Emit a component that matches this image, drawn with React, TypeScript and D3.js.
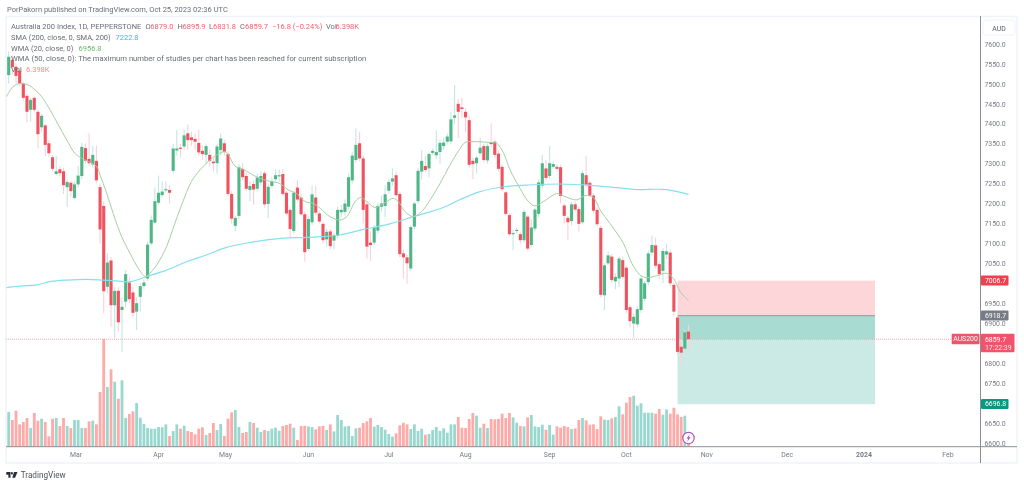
import { useEffect, useRef } from 'react'
import * as d3 from 'd3'

const opens = [
  7522, 7560, 7543, 7533, 7501, 7470, 7435, 7465, 7430, 7391,
  7396, 7351, 7316, 7274, 7286, 7281, 7241, 7252, 7214, 7248,
  7269, 7339, 7312, 7298, 7307, 7241, 7194, 6991, 7057, 6945,
  6981, 6933, 6954, 7002, 6977, 6929, 6966, 6993, 7012, 7100,
  7152, 7202, 7221, 7234, 7234, 7282, 7333, 7340, 7343, 7376,
  7366, 7362, 7352, 7332, 7322, 7322, 7305, 7301, 7334, 7351,
  7324, 7224, 7144, 7169, 7286, 7269, 7234, 7249, 7237, 7253,
  7276, 7199, 7244, 7261, 7269, 7274, 7227, 7184, 7131, 7240,
  7215, 7173, 7086, 7153, 7215, 7175, 7149, 7110, 7130, 7107,
  7120, 7178, 7179, 7192, 7258, 7309, 7351, 7313, 7198, 7102,
  7102, 7132, 7192, 7194, 7232, 7255, 7271, 7224, 7075, 7065,
  7037, 7142, 7206, 7280, 7294, 7288, 7327, 7321, 7329, 7344,
  7355, 7356, 7415, 7450, 7441, 7430, 7409, 7307, 7301, 7326,
  7344, 7308, 7354, 7355, 7325, 7292, 7228, 7171, 7124, 7132,
  7123, 7108, 7167, 7096, 7137, 7174, 7245, 7288, 7269, 7292,
  7292, 7291, 7195, 7164, 7156, 7198, 7186, 7153, 7271, 7252,
  7220, 7184, 7139, 6970, 7050, 7067, 7005, 7012, 7058, 7039,
  6940, 6899, 6897, 6933, 6961, 7003, 7077, 7095, 7048, 7031,
  7072, 7077, 6996, 6914, 6841, 6836, 6879,
]

const closes = [
  7568, 7542, 7520, 7501, 7465, 7430, 7460, 7435, 7374, 7420,
  7347, 7326, 7287, 7281, 7276, 7246, 7254, 7231, 7248, 7270,
  7342, 7307, 7301, 7322, 7258, 7135, 6980, 7052, 6945, 6981,
  6902, 6941, 7023, 6960, 6926, 6950, 6993, 7002, 7097, 7159,
  7206, 7227, 7230, 7236, 7227, 7338, 7338, 7338, 7371, 7359,
  7359, 7355, 7328, 7324, 7344, 7307, 7301, 7343, 7363, 7329,
  7224, 7162, 7164, 7291, 7266, 7237, 7244, 7235, 7265, 7269,
  7198, 7242, 7256, 7271, 7271, 7224, 7175, 7136, 7227, 7210,
  7173, 7078, 7161, 7223, 7177, 7155, 7108, 7129, 7093, 7120,
  7184, 7184, 7200, 7266, 7320, 7347, 7313, 7184, 7092, 7096,
  7140, 7194, 7200, 7223, 7254, 7263, 7221, 7073, 7065, 7050,
  7141, 7200, 7282, 7307, 7284, 7324, 7332, 7329, 7352, 7353,
  7368, 7411, 7421, 7430, 7437, 7416, 7297, 7299, 7315, 7340,
  7309, 7344, 7349, 7322, 7287, 7236, 7174, 7123, 7126, 7134,
  7108, 7179, 7087, 7140, 7185, 7253, 7301, 7264, 7301, 7299,
  7287, 7219, 7169, 7153, 7198, 7185, 7149, 7276, 7247, 7220,
  7182, 7148, 6971, 7045, 7070, 7008, 7016, 7062, 7016, 6933,
  6905, 6916, 6935, 7012, 7000, 7075, 7096, 7044, 7023, 7081,
  7080, 7000, 6929, 6828, 6826, 6877, 6859.7,
]

const highs = [
  7581, 7572, 7552, 7540, 7505, 7475, 7465, 7470, 7435, 7425,
  7400, 7358, 7322, 7319, 7295, 7290, 7260, 7258, 7255, 7295,
  7352, 7350, 7376, 7345, 7345, 7250, 7205, 7075, 7065, 6990,
  6990, 6965, 7033, 7015, 6990, 6965, 7000, 7010, 7105, 7170,
  7240, 7270, 7255, 7255, 7246, 7350, 7385, 7350, 7385, 7398,
  7380, 7375, 7385, 7345, 7350, 7335, 7315, 7350, 7375, 7360,
  7332, 7232, 7170, 7300, 7301, 7278, 7255, 7258, 7275, 7280,
  7282, 7250, 7265, 7285, 7285, 7285, 7232, 7190, 7232, 7259,
  7225, 7180, 7168, 7245, 7245, 7182, 7155, 7137, 7136, 7127,
  7192, 7196, 7210, 7275, 7330, 7388, 7380, 7320, 7205, 7130,
  7146, 7200, 7220, 7245, 7262, 7288, 7280, 7230, 7085, 7072,
  7145, 7205, 7290, 7335, 7320, 7330, 7338, 7384, 7360, 7365,
  7375, 7430, 7497, 7462, 7465, 7438, 7420, 7315, 7320, 7365,
  7350, 7350, 7401, 7360, 7332, 7298, 7232, 7176, 7135, 7140,
  7130, 7185, 7172, 7160, 7190, 7260, 7322, 7310, 7344, 7305,
  7298, 7297, 7200, 7170, 7205, 7205, 7192, 7283, 7320, 7258,
  7226, 7190, 7145, 7050, 7080, 7074, 7025, 7068, 7065, 7045,
  6946, 6925, 6942, 7018, 7006, 7082, 7120, 7115, 7054, 7088,
  7100, 7085, 7002, 6920, 6860, 6885, 6895.9,
]

const lows = [
  7501, 7522, 7501, 7495, 7458, 7403, 7405, 7428, 7338, 7380,
  7319, 7318, 7280, 7270, 7268, 7224, 7192, 7217, 7210, 7240,
  7262, 7300, 7295, 7290, 7250, 7100, 6925, 6975, 6891, 6862,
  6880, 6827, 6940, 6950, 6915, 6883, 6930, 6985, 7005, 7095,
  7148, 7196, 7215, 7228, 7200, 7275, 7320, 7315, 7335, 7335,
  7345, 7335, 7320, 7310, 7300, 7295, 7280, 7275, 7320, 7320,
  7218, 7150, 7130, 7160, 7258, 7230, 7205, 7196, 7230, 7245,
  7190, 7163, 7238, 7255, 7255, 7218, 7170, 7113, 7125, 7205,
  7168, 7054, 7080, 7146, 7170, 7150, 7100, 7092, 7085, 7085,
  7112, 7165, 7170, 7185, 7250, 7302, 7306, 7150, 7062, 7055,
  7095, 7125, 7180, 7165, 7225, 7245, 7215, 7065, 7012, 6999,
  7030, 7135, 7200, 7260, 7278, 7265, 7322, 7312, 7300, 7335,
  7348, 7350, 7400, 7364, 7415, 7380, 7290, 7261, 7275, 7320,
  7303, 7300, 7340, 7315, 7280, 7230, 7168, 7118, 7083, 7125,
  7100, 7102, 7082, 7090, 7130, 7165, 7238, 7258, 7262, 7288,
  7282, 7200, 7150, 7108, 7145, 7180, 7130, 7148, 7240, 7215,
  7176, 7143, 6965, 6933, 7045, 7000, 6985, 6990, 7010, 6925,
  6890, 6862, 6890, 6926, 6955, 6996, 7070, 7038, 7010, 7000,
  7060, 6992, 6920, 6820, 6795, 6830, 6831.8,
]

// volume, relative bar heights (no volume axis in the picture), last bar sits behind the icon
const volumes = [
  10.4, 8.0, 10.8, 6.7, 7.4, 8.6, 5.6, 10.1, 7.8, 8.4,
  7.4, 3.1, 8.4, 8.6, 6.2, 8.6, 6.2, 5.6, 8.0, 8.0,
  5.6, 5.6, 7.6, 7.8, 6.7, 16.4, 32.3, 17.9, 23.2, 19.5,
  14.4, 19.9, 8.6, 9.8, 10.6, 13.1, 8.7, 6.8, 5.6, 5.4,
  5.4, 5.9, 5.8, 6.7, 3.2, 4.7, 6.7, 5.4, 6.3, 4.7,
  4.4, 3.7, 5.4, 5.8, 3.5, 4.1, 7.1, 5.0, 6.8, 3.2,
  8.4, 10.3, 11.0, 5.9, 4.1, 4.4, 7.4, 7.1, 5.7, 4.4,
  5.0, 4.7, 5.4, 5.7, 4.8, 6.2, 6.5, 6.9, 5.7, 2.0,
  6.2, 6.3, 6.1, 5.9, 5.2, 6.1, 6.2, 5.0, 6.7, 4.6,
  9.5, 8.0, 6.1, 6.2, 3.2, 5.5, 5.7, 7.1, 7.6, 8.6,
  6.0, 6.5, 5.9, 5.1, 3.8, 3.0, 4.0, 6.4, 7.2, 6.7,
  5.3, 6.7, 4.7, 5.4, 3.6, 3.8, 5.0, 5.9, 4.7, 5.5,
  4.2, 6.7, 6.7, 8.9, 5.7, 5.6, 8.3, 10.1, 9.3, 5.7,
  6.9, 5.6, 8.3, 8.2, 8.3, 9.9, 8.6, 10.1, 8.8, 7.2,
  6.2, 6.1, 8.8, 9.5, 6.1, 5.9, 6.6, 5.1, 6.5, 3.6,
  6.1, 5.7, 6.2, 5.9, 5.3, 5.5, 8.0, 8.6, 7.9, 6.6,
  6.7, 5.3, 9.1, 8.1, 8.0, 8.5, 8.9, 12.1, 9.7, 13.2,
  14.9, 15.3, 12.3, 13.0, 10.2, 10.2, 10.2, 9.9, 11.3, 9.6,
  11.2, 9.9, 11.7, 9.7, 8.9, 9.3, 3.5,
]

const wmaBars = [
  -0.6, 0.8, 2.2, 3.5, 5.4, 7.2, 9, 11.3, 13.6, 15.9, 18.1, 19.5, 24.1, 25, 26.8, 28.6, 30.9, 33.2, 35.5, 37.3, 38.2,
  40.5, 43.2, 45, 47.3, 50, 52.3, 54.6, 56.9, 59.2, 60.5, 61.9, 64.2, 66.9, 69.7, 72, 74.2, 76.5, 78.8, 81.1, 83.4,
  85.2, 87.9, 90.6, 92.5, 94.8, 96.3, 98, 100.2, 103, 105.2, 106.6, 108.4, 110.7, 113, 115.3, 118, 120.7, 123.5,
  124.9, 128, 131.7, 133.5, 135.4, 137.2, 139.9, 142.2, 144, 146.3, 150, 151.8, 155.4, 157.7, 160, 161.8, 164.5,
  168.2, 170.5, 172.7, 174.6, 177.3, 180, 181.9, 183.7, 186,
]
const wmaValues = [
  7468, 7489, 7499, 7501, 7497, 7485, 7468, 7435, 7397, 7359, 7326, 7316, 7292, 7271, 7226, 7175, 7117, 7075, 7037, 7017, 7021,
  7046, 7092, 7138, 7196, 7255, 7284, 7305, 7322, 7330, 7316, 7294, 7286, 7271, 7260, 7255, 7250, 7234, 7225, 7205, 7200,
  7188, 7167, 7159, 7167, 7205, 7215, 7205, 7190, 7202, 7213, 7205, 7180, 7167, 7180, 7209, 7250, 7296, 7338,
  7353, 7355, 7353, 7351, 7326, 7284, 7238, 7205, 7194, 7205, 7225, 7219, 7209, 7220, 7215, 7184, 7150,
  7100, 7050, 7021, 7014, 7019, 7025, 7012, 6979, 6956.8,
]

const smaBars = [
  -0.6, 3.1, 7.7, 11.3, 15.9, 21.3, 25.9, 29.5, 33.2, 37.8, 43.2, 48.7, 54.1, 59.6, 66, 75.1, 81.5, 90.6, 97, 104.3,
  110.7, 118.9, 123.5, 129, 135.4, 141.7, 150.9, 160, 166.4, 171.8, 180, 186,
]
const smaValues = [
  6989, 6993, 6996, 7004, 7008, 7010, 7008, 7006, 7004, 7017, 7033, 7054, 7071, 7090, 7102, 7113, 7115, 7121, 7135, 7149,
  7167, 7190, 7210, 7230, 7242, 7246, 7249, 7245, 7240, 7235, 7235, 7222.8,
]

// 7000, 6850 and 6700 are covered by the price tags in the picture
const priceTicks = [
  7600, 7550, 7500, 7450, 7400, 7350, 7300, 7250, 7200, 7150, 7100, 7050,
  6950, 6900, 6800, 6750, 6650, 6600,
]
const monthLabels = ['Mar', 'Apr', 'May', 'Jun', 'Jul', 'Aug', 'Sep', 'Oct', 'Nov', 'Dec', '2024', 'Feb']
const monthBars = [18.4, 41, 59.3, 82, 104, 125, 148, 169, 191, 213, 234, 257]

const entryPrice = 6918.7
const stopPrice = 7006.7
const targetPrice = 6696.8
const lastPrice = 6859.7

const FONT = 'Roboto, sans-serif'
const UP = '#4fb786'
const DOWN = '#f0525f'
const AXIS_SIZE = '6.9px'

export default function App() {
  const svgRef = useRef<SVGSVGElement>(null)

  useEffect(() => {
    if (!svgRef.current) return
    const svg = d3.select(svgRef.current)
    svg.selectAll('*').remove()

    const x = d3.scaleLinear().domain([0, 186]).range([8.7, 688.5])
    const y = d3.scaleLinear().domain([6600, 7600]).range([442.8, 44])
    const v = d3.scaleLinear().domain([0, 32.3]).range([446.7, 339])
    const bars = d3.range(opens.length)
    const isUp = (i: number) => closes[i] >= opens[i]

    // frame
    svg.append('rect').attr('x', 6).attr('y', 16.5).attr('width', 1011).attr('height', 446.5)
      .attr('fill', '#fff').attr('stroke', '#f0f3fa').attr('stroke-width', 1.5)

    const plot = svg.append('g')

    // position tool
    const boxLeft = x(183)
    const boxWidth = 875 - boxLeft
    plot.append('rect').attr('x', boxLeft).attr('y', y(stopPrice)).attr('width', boxWidth)
      .attr('height', y(entryPrice) - y(stopPrice)).attr('fill', '#fdd6da')
    plot.append('rect').attr('x', boxLeft).attr('y', y(entryPrice)).attr('width', boxWidth)
      .attr('height', y(targetPrice) - y(entryPrice)).attr('fill', '#cbeae5')
    plot.append('rect').attr('x', boxLeft).attr('y', y(entryPrice)).attr('width', boxWidth)
      .attr('height', y(lastPrice) - y(entryPrice)).attr('fill', '#a8dbd2')
    plot.append('line').attr('x1', boxLeft).attr('x2', 875).attr('y1', y(entryPrice)).attr('y2', y(entryPrice))
      .attr('stroke', '#8f9a9c').attr('stroke-width', 1)

    // volume
    plot.selectAll('.vol').data(bars).enter().append('rect')
      .attr('x', (i) => x(i) - 1.4)
      .attr('y', (i) => v(volumes[i]))
      .attr('width', 2.8)
      .attr('height', (i) => v(0) - v(volumes[i]))
      .attr('fill', (i) => (isUp(i) ? '#99d8ce' : '#fdaaa8'))

    // last price line
    plot.append('line').attr('x1', 6).attr('x2', 951).attr('y1', y(lastPrice)).attr('y2', y(lastPrice))
      .attr('stroke', '#f6a6b0').attr('stroke-width', 1).attr('stroke-dasharray', '1,1')

    // wicks and bodies
    plot.selectAll('.wick').data(bars).enter().append('line')
      .attr('x1', (i) => x(i)).attr('x2', (i) => x(i))
      .attr('y1', (i) => y(highs[i])).attr('y2', (i) => y(lows[i]))
      .attr('stroke', (i) => (isUp(i) ? '#c6e4e4' : '#fcd0d6'))
      .attr('stroke-width', 1.1)

    plot.selectAll('.body').data(bars).enter().append('rect')
      .attr('x', (i) => x(i) - 1.55)
      .attr('y', (i) => y(Math.max(opens[i], closes[i])))
      .attr('width', 3.1)
      .attr('height', (i) => Math.max(1.2, Math.abs(y(opens[i]) - y(closes[i]))))
      .attr('fill', (i) => (isUp(i) ? UP : DOWN))

    // moving averages
    const drawLine = (xs: number[], ys: number[], stroke: string, width: number) => {
      const line = d3.line<number>()
        .x((i) => x(xs[i]))
        .y((i) => y(ys[i]))
        .curve(d3.curveCatmullRom)
      plot.append('path').attr('d', line(d3.range(xs.length)))
        .attr('fill', 'none').attr('stroke', stroke).attr('stroke-width', width)
    }
    drawLine(smaBars, smaValues, '#86e0ee', 1.2)
    drawLine(wmaBars, wmaValues, '#a5d0a3', 1)

    // panes
    svg.append('line').attr('x1', 980.5).attr('x2', 980.5).attr('y1', 16).attr('y2', 463)
      .attr('stroke', '#8b8e96').attr('stroke-width', 1)
    svg.append('line').attr('x1', 6).attr('x2', 1017).attr('y1', 446.7).attr('y2', 446.7)
      .attr('stroke', '#8b8e96').attr('stroke-width', 1)

    // price axis
    const priceAxis = svg.append('g').attr('transform', 'translate(980.5,0)')
      .call(d3.axisRight(y).tickValues(priceTicks).tickSize(0).tickPadding(4).tickFormat((d) => d3.format('.1f')(d as number)))
    priceAxis.select('.domain').remove()
    priceAxis.selectAll('text').attr('fill', '#787b86').attr('font-size', AXIS_SIZE).attr('font-family', FONT)

    // time axis
    svg.selectAll('.month').data(monthLabels).enter().append('text')
      .attr('x', (_, i) => x(monthBars[i]))
      .attr('y', 457)
      .attr('text-anchor', 'middle')
      .attr('fill', '#787b86')
      .attr('font-family', FONT)
      .attr('font-size', AXIS_SIZE)
      .attr('font-weight', (d) => (d === '2024' ? 700 : 400))
      .text((d) => d)

    // AUD box
    svg.append('rect').attr('x', 983).attr('y', 20).attr('width', 32).attr('height', 15).attr('rx', 3)
      .attr('fill', '#fff').attr('stroke', '#f0f3fa')
    svg.append('text').attr('x', 999).attr('y', 30.5).attr('text-anchor', 'middle')
      .attr('font-family', FONT).attr('font-size', AXIS_SIZE).attr('fill', '#5d606b').text('AUD')

    // price tags
    const tag = (price: number, fill: string) => {
      const cy = y(price)
      svg.append('rect').attr('x', 981).attr('y', cy - 5.2).attr('width', 27.5).attr('height', 10).attr('rx', 1).attr('fill', fill)
      svg.append('text').attr('x', 985).attr('y', cy + 2.2).attr('font-family', FONT).attr('font-size', AXIS_SIZE)
        .attr('fill', '#fff').text(price.toFixed(1))
    }
    tag(stopPrice, '#f23f50')
    tag(entryPrice, '#787b86')
    tag(targetPrice, '#089981')

    const ly = y(lastPrice)
    svg.append('rect').attr('x', 951.7).attr('y', ly - 5.5).attr('width', 27.8).attr('height', 10.5).attr('rx', 1).attr('fill', '#f0536a')
    svg.append('text').attr('x', 965.5).attr('y', ly + 2.2).attr('text-anchor', 'middle').attr('font-family', FONT)
      .attr('font-size', AXIS_SIZE).attr('fill', '#fff').text('AUS200')
    svg.append('rect').attr('x', 981).attr('y', ly - 5.5).attr('width', 33.5).attr('height', 18.5).attr('rx', 1).attr('fill', '#f0536a')
    svg.append('text').attr('x', 985).attr('y', ly + 2.5).attr('font-family', FONT).attr('font-size', AXIS_SIZE)
      .attr('fill', '#fff').text(lastPrice.toFixed(1))
    svg.append('text').attr('x', 985).attr('y', ly + 10.5).attr('font-family', FONT).attr('font-size', AXIS_SIZE)
      .attr('fill', '#fff').attr('opacity', 0.85).text('17:22:39')

    // lightning icon
    const icon = svg.append('g').attr('transform', `translate(${x(186)},438)`)
    icon.append('circle').attr('r', 5.7).attr('fill', '#fff').attr('stroke', '#ab47bc').attr('stroke-width', 1.1)
    icon.append('path').attr('d', 'M1.2,-3.4 L-2,0.6 L-0.2,0.6 L-1.2,3.4 L2,-0.7 L0.2,-0.7 Z').attr('fill', '#ab47bc')

    // header and legend
    const text = (tx: number, ty: number, str: string, fill: string, size = 7.5) =>
      svg.append('text').attr('x', tx).attr('y', ty).attr('font-family', FONT).attr('font-size', `${size}px`).attr('fill', fill).text(str)

    text(7, 12, 'PorPakorn published on TradingView.com, Oct 25, 2023 02:36 UTC', '#6a6d78', 7.5)
    text(11, 29, 'Australia 200 Index, 1D, PEPPERSTONE', '#6a6d78')
    text(145.5, 29, 'O', '#6a6d78'); text(150.3, 29, '6879.0', '#f0616f')
    text(177.5, 29, 'H', '#6a6d78'); text(182.5, 29, '6895.9', '#f0616f')
    text(209, 29, 'L', '#6a6d78'); text(213, 29, '6831.8', '#f0616f')
    text(240, 29, 'C', '#6a6d78'); text(245, 29, '6859.7', '#f0616f')
    text(272, 29, '−16.8 (−0.24%)', '#f0616f')
    text(326, 29, 'Vol', '#6a6d78'); text(335.5, 29, '6.398K', '#f0616f')
    text(11, 40, 'SMA (200, close, 0, SMA, 200)', '#6a6d78')
    text(115.5, 40, '7222.8', '#26c6da')
    text(11, 50.5, 'WMA (20, close, 0)', '#6a6d78')
    text(78.5, 50.5, '6956.8', '#66bb6a')
    text(11, 61, 'WMA (50, close, 0): The maximum number of studies per chart has been reached for current subscription', '#6a6d78', 7.65)
    text(11, 71.5, 'Vol', '#6a6d78')
    text(26, 71.5, '6.398K', '#f78a8a')

    // TradingView mark
    const mark = svg.append('g').attr('transform', 'translate(6.3,472) scale(0.7,0.95)').attr('fill', '#2a2e39')
    mark.append('path').attr('d', 'M0,0 H6 V6 H3 V3 H0 Z')
    mark.append('circle').attr('cx', 8).attr('cy', 1.4).attr('r', 1.4)
    mark.append('path').attr('d', 'M11,0 H16 L12.5,6 H8.5 Z')
    text(20.7, 477.5, 'TradingView', '#50535e', 8.2)
  }, [])

  return (
    <svg
      ref={svgRef}
      width={1024}
      height={486}
      style={{ position: 'absolute', left: 0, top: 0, background: '#fff', filter: 'blur(0.3px)' }}
    />
  )
}
